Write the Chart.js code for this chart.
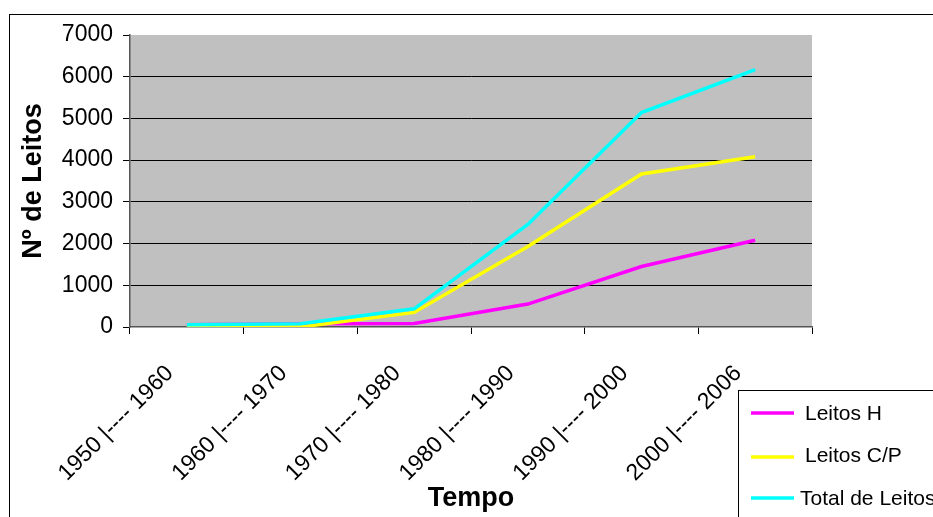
<!DOCTYPE html>
<html>
<head>
<meta charset="utf-8">
<script src="https://cdn.jsdelivr.net/npm/chart.js@4/dist/chart.umd.min.js"></script>
<style>
html,body{margin:0;padding:0;background:#fff;}
canvas{display:block;}
</style>
</head>
<body>
<canvas id="c" width="933" height="517"></canvas>
<script>
const categories = ["1950 |---- 1960","1960 |---- 1970","1970 |---- 1980","1980 |---- 1990","1990 |---- 2000","2000 |---- 2006"];
const leitosH = [55, 80, 85, 550, 1450, 2080];
const leitosCP = [0, 0, 350, 1930, 3670, 4080];
const totalLeitos = [55, 80, 435, 2460, 5140, 6170];
const seriesNames = ["Leitos H", "Leitos C/P", "Total de Leitos"];
const seriesColors = ["#FF00FF", "#FFFF00", "#00FFFF"];
const yTitle = "Nº de Leitos";
const xTitle = "Tempo";

const FONT = "Arial, 'Liberation Sans', sans-serif";

const bgPlugin = {
  id: 'bg',
  beforeDraw(chart) {
    const {ctx, chartArea: a} = chart;
    ctx.save();
    ctx.fillStyle = '#fff';
    ctx.fillRect(0, 0, chart.width, chart.height);
    ctx.fillStyle = '#C0C0C0';
    ctx.fillRect(a.left, a.top, a.right - a.left, a.bottom - a.top);
    ctx.restore();
  },
  afterDraw(chart) {
    const ctx = chart.ctx;
    ctx.save();
    ctx.strokeStyle = '#000';
    ctx.lineWidth = 1;
    ctx.strokeRect(9.5, 14.5, 1000, 1000);
    ctx.fillStyle = '#fff';
    ctx.fillRect(738.5, 390.5, 400, 300);
    ctx.strokeRect(738.5, 390.5, 400, 300);
    const ys = [413, 457, 498];
    const tx = [805, 805, 800];
    const base = [419.5, 462, 504.5];
    ctx.font = "21px " + FONT;
    ctx.textBaseline = 'alphabetic';
    ctx.textAlign = 'left';
    for (let i = 0; i < seriesNames.length; i++) {
      ctx.strokeStyle = seriesColors[i];
      ctx.lineWidth = 3.5;
      ctx.beginPath();
      ctx.moveTo(751, ys[i]);
      ctx.lineTo(794, ys[i]);
      ctx.stroke();
      ctx.fillStyle = '#000';
      ctx.fillText(seriesNames[i], tx[i], base[i]);
    }
    ctx.restore();
  }
};

new Chart(document.getElementById('c'), {
  type: 'line',
  data: {
    labels: categories,
    datasets: [
      {label: seriesNames[0], data: leitosH, borderColor: seriesColors[0], order: 3},
      {label: seriesNames[1], data: leitosCP, borderColor: seriesColors[1], order: 2},
      {label: seriesNames[2], data: totalLeitos, borderColor: seriesColors[2], order: 1}
    ].map(d => Object.assign(d, {borderWidth: 3.5, pointRadius: 0, tension: 0, fill: false, backgroundColor: d.borderColor}))
  },
  options: {
    responsive: false,
    animation: false,
    devicePixelRatio: 1,
    layout: {padding: {left: 0, top: 35, right: 121, bottom: 0}},
    plugins: {legend: {display: false}, tooltip: {enabled: false}},
    scales: {
      x: {
        offset: true,
        grid: {offset: true, drawOnChartArea: false, drawTicks: true, tickLength: 7, tickColor: '#000'},
        border: {display: true, color: '#555', width: 1.5},
        ticks: {
          autoSkip: false, minRotation: 45, maxRotation: 45,
          color: '#000', font: {family: FONT, size: 23},
          padding: 26, labelOffset: -17
        },
        title: {display: true, text: xTitle, color: '#000', font: {family: FONT, size: 27, weight: 'bold'}, padding: {top: 0, bottom: 2}},
        afterFit(s) { s.height = 190; }
      },
      y: {
        min: 0, max: 7000,
        grid: {
          color: c => (c.tick && (c.tick.value === 7000 || c.tick.value === 0)) ? 'rgba(0,0,0,0)' : '#000',
          tickColor: '#000', tickLength: 7, lineWidth: 1
        },
        border: {display: true, color: '#555', width: 1.5},
        ticks: {stepSize: 1000, color: '#000', font: {family: FONT, size: 23}, padding: 10, callback: v => String(v)},
        title: {display: true, text: yTitle, color: '#000', font: {family: FONT, size: 27, weight: 'bold'}, padding: {top: 17, bottom: 0}},
        afterFit(s) { s.width = 130; }
      }
    }
  },
  plugins: [bgPlugin]
});
</script>
</body>
</html>
